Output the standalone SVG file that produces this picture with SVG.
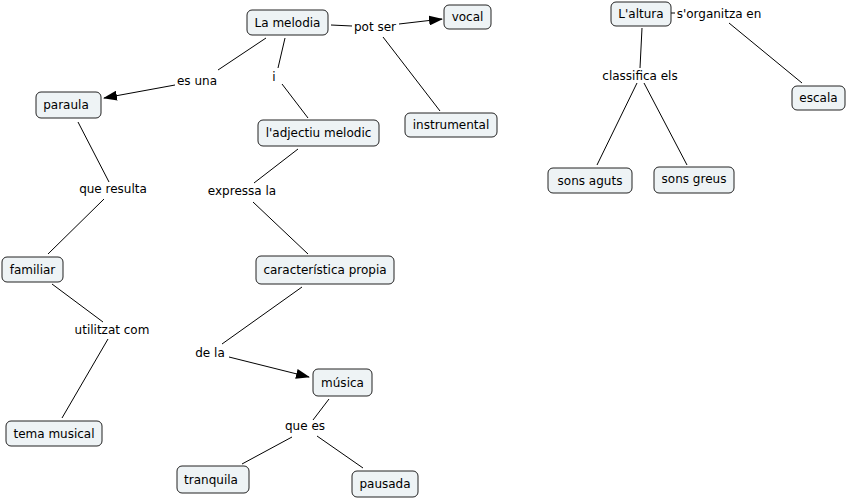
<svg xmlns="http://www.w3.org/2000/svg" width="847" height="499" viewBox="0 0 847 499">
<style>
.n rect{fill:#eef3f5;stroke:#222;stroke-width:1}
text{font-family:"DejaVu Sans",Verdana,sans-serif;font-size:12px;fill:#000;text-anchor:middle}
.c line{stroke:#000;stroke-width:1}
</style>
<defs>
<marker id="ar" markerUnits="userSpaceOnUse" markerWidth="14" markerHeight="10" refX="13" refY="5" orient="auto">
<path d="M0,0 L14,5 L0,10 Z" fill="#000"/>
</marker>
</defs>
<rect width="847" height="499" fill="#fff"/>
<g class="c" id="connectors">
<line x1="331" y1="25" x2="352" y2="26"/>
<line x1="399" y1="24" x2="442" y2="19" marker-end="url(#ar)"/>
<line x1="383" y1="37" x2="440" y2="111"/>
<line x1="285" y1="38" x2="278" y2="68"/>
<line x1="282" y1="84" x2="308" y2="118"/>
<line x1="266" y1="38" x2="218" y2="70"/>
<line x1="175" y1="85" x2="104" y2="98" marker-end="url(#ar)"/>
<line x1="78" y1="122" x2="109" y2="182"/>
<line x1="104" y1="199" x2="48" y2="254"/>
<line x1="52" y1="284" x2="103" y2="322"/>
<line x1="108" y1="339" x2="62" y2="418"/>
<line x1="298" y1="149" x2="254" y2="183"/>
<line x1="253" y1="202" x2="308" y2="254"/>
<line x1="302" y1="287" x2="222" y2="344"/>
<line x1="229" y1="357" x2="309" y2="377" marker-end="url(#ar)"/>
<line x1="329" y1="399" x2="313" y2="420"/>
<line x1="292" y1="437" x2="242" y2="464"/>
<line x1="317" y1="436" x2="363" y2="468"/>
<line x1="671" y1="13" x2="675" y2="13"/>
<line x1="729" y1="23" x2="802" y2="83"/>
<line x1="642" y1="28" x2="640" y2="68"/>
<line x1="637" y1="83" x2="597" y2="165"/>
<line x1="644" y1="83" x2="687" y2="165"/>
</g>
<g id="labels">
<text x="375" y="31">pot ser</text>
<text x="197" y="85">es una</text>
<text x="274" y="81">i</text>
<text x="242" y="195">expressa la</text>
<text x="113" y="193">que resulta</text>
<text x="112" y="334">utilitzat com</text>
<text x="210" y="357">de la</text>
<text x="305" y="430">que es</text>
<text x="640" y="80">classifica els</text>
<text x="719" y="18">s'organitza en</text>
</g>
<g class="n" id="n-melodia"><rect x="247" y="10" width="81" height="25" rx="5"/><text x="287.5" y="27">La melodia</text></g>
<g class="n" id="n-vocal"><rect x="444" y="5" width="47" height="24" rx="5"/><text x="467.5" y="21">vocal</text></g>
<g class="n" id="n-instrumental"><rect x="405" y="113" width="92" height="24" rx="5"/><text x="451" y="129">instrumental</text></g>
<g class="n" id="n-adjectiu"><rect x="258" y="120" width="121" height="26" rx="5"/><text x="318.5" y="137">l'adjectiu melodic</text></g>
<g class="n" id="n-caracteristica"><rect x="256" y="256" width="138" height="28" rx="5"/><text x="325" y="274">característica propia</text></g>
<g class="n" id="n-paraula"><rect x="36" y="92" width="65" height="26" rx="5"/><text x="66" y="109">paraula</text></g>
<g class="n" id="n-familiar"><rect x="2" y="257" width="61" height="25" rx="5"/><text x="32.5" y="274">familiar</text></g>
<g class="n" id="n-tema"><rect x="6" y="421" width="96" height="25" rx="5"/><text x="54" y="438">tema musical</text></g>
<g class="n" id="n-musica"><rect x="313" y="369" width="59" height="27" rx="5"/><text x="342.5" y="387">música</text></g>
<g class="n" id="n-tranquila"><rect x="177" y="466" width="72" height="27" rx="5"/><text x="211" y="484">tranquila</text></g>
<g class="n" id="n-pausada"><rect x="352" y="471" width="66" height="26" rx="5"/><text x="385" y="488">pausada</text></g>
<g class="n" id="n-altura"><rect x="611" y="2" width="60" height="24" rx="5"/><text x="641" y="18">L'altura</text></g>
<g class="n" id="n-escala"><rect x="792" y="86" width="53" height="24" rx="5"/><text x="818.5" y="102">escala</text></g>
<g class="n" id="n-aguts"><rect x="548" y="168" width="84" height="25" rx="5"/><text x="590" y="185">sons aguts</text></g>
<g class="n" id="n-greus"><rect x="654" y="167" width="80" height="26" rx="5"/><text x="694" y="183">sons greus</text></g>
</svg>
